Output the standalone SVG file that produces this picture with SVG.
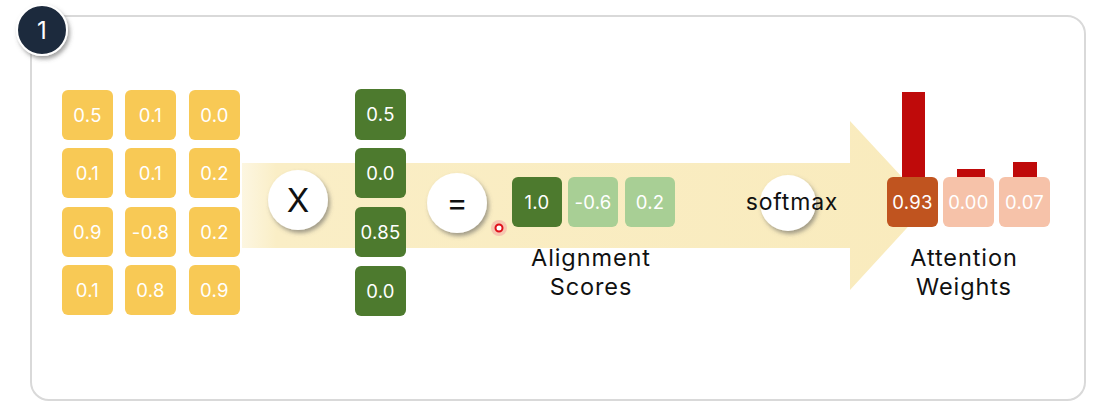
<svg xmlns="http://www.w3.org/2000/svg" width="1108" height="418" viewBox="0 0 1108 418">
<defs>
<style>
.t{font-family:Inter,"Open Sans","DejaVu Sans",sans-serif;}
.y{fill:#f8c955;}
.g{fill:#4d7a2e;}
.gl{fill:#a8cf95;}
.box{font-size:18.5px;fill:#ffffff;text-anchor:middle;letter-spacing:0.3px;}
.lbl{font-size:23.5px;fill:#111111;text-anchor:middle;letter-spacing:0.9px;}
.bar{fill:#bf0a0a;}
.op{fill:#ffffff;filter:url(#sh);}
</style>
<filter id="sh" x="-40%" y="-40%" width="180%" height="180%">
<feDropShadow dx="2" dy="3" stdDeviation="2" flood-color="#555" flood-opacity="0.55"/>
</filter>
<linearGradient id="ag" x1="0" x2="1" y1="0" y2="0">
<stop offset="0" stop-color="#fbf0cc" stop-opacity="0.6"/>
<stop offset="0.05" stop-color="#faeec6"/>
<stop offset="1" stop-color="#f9ebbd"/>
</linearGradient>
</defs>
<rect width="1108" height="418" fill="#ffffff"/>
<rect x="31" y="16" width="1054" height="384" rx="18" fill="#ffffff" stroke="#d9d9d9" stroke-width="2"/>
<g id="badge">
<circle cx="42" cy="30" r="25" fill="#1f2b3d" stroke="#ffffff" stroke-width="2" filter="url(#sh)"/>
<text class="t" x="42" y="39" font-size="24" fill="#ffffff" text-anchor="middle">1</text>
</g>
<g id="connectors">
<path d="M242,163 H850 V121 L928,205 L850,290 V248 H242 Z" fill="url(#ag)"/>
</g>
<g id="matrix">
<rect class="y" x="62" y="90" width="51" height="50" rx="6"/><text class="t box" x="87.5" y="122">0.5</text>
<rect class="y" x="125" y="90" width="51" height="50" rx="6"/><text class="t box" x="150.5" y="122">0.1</text>
<rect class="y" x="189" y="90" width="51" height="50" rx="6"/><text class="t box" x="214.5" y="122">0.0</text>
<rect class="y" x="62" y="148" width="51" height="50" rx="6"/><text class="t box" x="87.5" y="180">0.1</text>
<rect class="y" x="125" y="148" width="51" height="50" rx="6"/><text class="t box" x="150.5" y="180">0.1</text>
<rect class="y" x="189" y="148" width="51" height="50" rx="6"/><text class="t box" x="214.5" y="180">0.2</text>
<rect class="y" x="62" y="207" width="51" height="50" rx="6"/><text class="t box" x="87.5" y="239">0.9</text>
<rect class="y" x="125" y="207" width="51" height="50" rx="6"/><text class="t box" x="150.5" y="239">-0.8</text>
<rect class="y" x="189" y="207" width="51" height="50" rx="6"/><text class="t box" x="214.5" y="239">0.2</text>
<rect class="y" x="62" y="265" width="51" height="50" rx="6"/><text class="t box" x="87.5" y="297">0.1</text>
<rect class="y" x="125" y="265" width="51" height="50" rx="6"/><text class="t box" x="150.5" y="297">0.8</text>
<rect class="y" x="189" y="265" width="51" height="50" rx="6"/><text class="t box" x="214.5" y="297">0.9</text>
</g>
<g id="times">
<circle class="op" cx="298" cy="200" r="30"/>
<text class="t" x="298" y="212" font-size="33" fill="#111" text-anchor="middle">X</text>
</g>
<g id="vector">
<rect class="g" x="355" y="89" width="51" height="51" rx="6"/><text class="t box" x="380.5" y="121">0.5</text>
<rect class="g" x="355" y="148" width="51" height="50" rx="6"/><text class="t box" x="380.5" y="180">0.0</text>
<rect class="g" x="355" y="207" width="51" height="50" rx="6"/><text class="t box" x="380.5" y="239">0.85</text>
<rect class="g" x="355" y="266" width="51" height="50" rx="6"/><text class="t box" x="380.5" y="298">0.0</text>
</g>
<g id="equals">
<circle class="op" cx="457" cy="203" r="30"/>
<text class="t" x="457" y="214" font-size="32" fill="#111" text-anchor="middle">=</text>
</g>
<g id="cursor">
<circle cx="499" cy="228" r="8" fill="#f4a0a0" opacity="0.5"/>
<circle cx="499" cy="228" r="3.5" fill="#ffffff" stroke="#e0101a" stroke-width="2"/>
</g>
<g id="scores">
<rect class="g" x="512" y="177" width="50" height="50" rx="6"/><text class="t box" x="537" y="209">1.0</text>
<rect class="gl" x="568" y="177" width="50" height="50" rx="6"/><text class="t box" x="593" y="209" fill="#e8f4e0">-0.6</text>
<rect class="gl" x="625" y="177" width="50" height="50" rx="6"/><text class="t box" x="650" y="209">0.2</text>
<text class="t lbl" x="591" y="266">Alignment</text>
<text class="t lbl" x="591" y="295">Scores</text>
</g>
<g id="softmax">
<circle class="op" cx="788" cy="203" r="28"/>
<text class="t" x="792" y="210" font-size="23" fill="#111" text-anchor="middle" letter-spacing="0.8">softmax</text>
</g>
<g id="weights">
<rect class="bar" x="902" y="92" width="23" height="86"/>
<rect class="bar" x="957" y="169" width="28" height="9"/>
<rect class="bar" x="1013" y="162" width="24" height="16"/>
<rect x="887" y="177" width="51" height="50" rx="6" fill="#c0541f"/><text class="t box" x="912.5" y="209">0.93</text>
<rect x="943" y="177" width="51" height="50" rx="6" fill="#f6c2a9"/><text class="t box" x="968.5" y="209">0.00</text>
<rect x="999" y="177" width="51" height="50" rx="6" fill="#f6c2a9"/><text class="t box" x="1024.5" y="209">0.07</text>
<text class="t lbl" x="964" y="266">Attention</text>
<text class="t lbl" x="964" y="295">Weights</text>
</g>
</svg>
